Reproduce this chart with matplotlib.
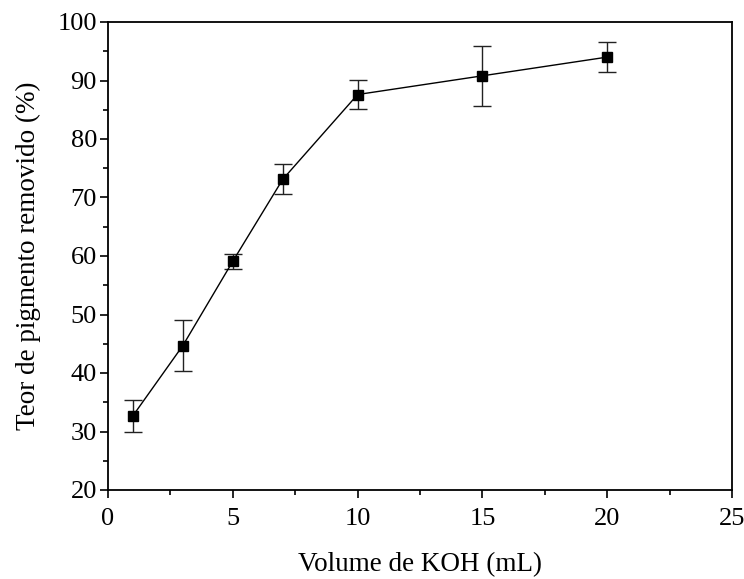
import matplotlib
matplotlib.use("Agg")
import matplotlib.pyplot as plt
from matplotlib.ticker import MultipleLocator

volume_koh = [1, 3, 5, 7, 10, 15, 20]
pigment_removed = [32.7, 44.7, 59.1, 73.1, 87.6, 90.8, 94.0]
pigment_err = [2.7, 4.4, 1.25, 2.55, 2.55, 5.15, 2.6]

plt.rcParams['font.family'] = ['Liberation Serif', 'DejaVu Serif']

fig = plt.figure(figsize=(7.44, 5.79), dpi=100)
ax = fig.add_axes([108/744, 1 - 490/579, (732-108)/744, (490-22)/579])

ax.errorbar(volume_koh, pigment_removed, yerr=pigment_err, fmt='s-', color='black',
            markersize=7.5, linewidth=1.0, elinewidth=1.0, capsize=6.5, capthick=1.0,
            ecolor='#222222')

ax.set_xlim(0, 25)
ax.set_ylim(20, 100)
ax.xaxis.set_major_locator(MultipleLocator(5))
ax.xaxis.set_minor_locator(MultipleLocator(2.5))
ax.yaxis.set_major_locator(MultipleLocator(10))
ax.yaxis.set_minor_locator(MultipleLocator(5))
ax.tick_params(which='both', direction='out', top=False, right=False, width=1.2, labelsize=19)
ax.tick_params(which='major', length=6)
ax.tick_params(which='minor', length=3.5)
ax.tick_params(axis='x', which='major', pad=7)
ax.tick_params(axis='y', which='major', pad=2)
for s in ax.spines.values():
    s.set_linewidth(1.3)

ax.set_xlabel('Volume de KOH (mL)', fontsize=19.5, labelpad=16)
ax.set_ylabel('Teor de pigmento removido (%)', fontsize=19.5, labelpad=12)

fig.savefig('out.png', dpi=100)
